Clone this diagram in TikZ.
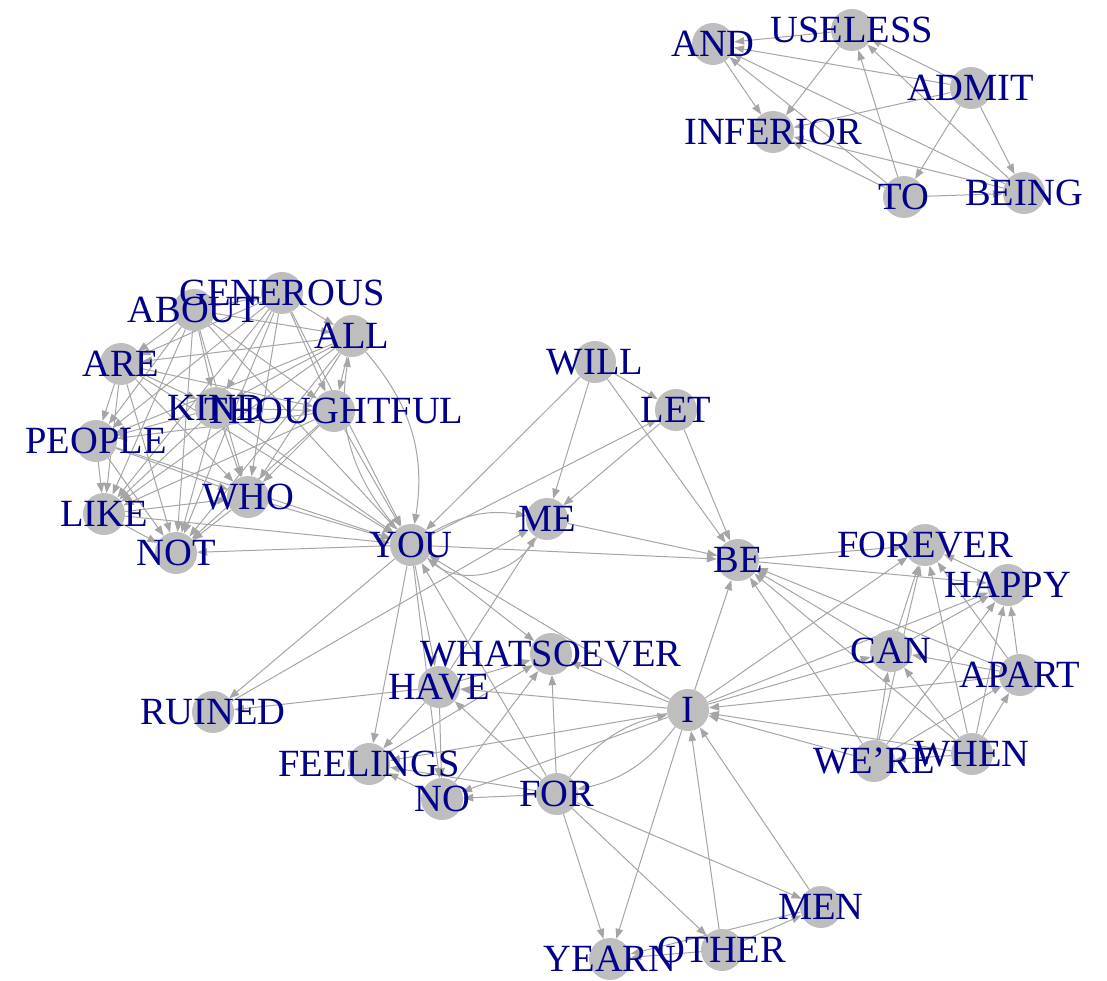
\documentclass[tikz,border=0pt]{standalone}
\usepackage{fontspec}
\setmainfont{Liberation Serif}
\usetikzlibrary{arrows.meta}
\pgfdeclarelayer{bg}
\pgfsetlayers{bg,main}
\definecolor{vcol}{RGB}{190,190,190}
\definecolor{ecol}{RGB}{165,165,165}
\definecolor{lcol}{RGB}{0,0,139}
\newcommand\sentence[1]{%
  \foreach \a [count=\i] in {#1} {%
    \foreach \b [count=\j] in {#1} {%
      \ifnum\j>\i \draw[edge] (\a) -- (\b);\fi
    }}}
\begin{document}
\begin{tikzpicture}[x=1pt,y=-1pt,
  vert/.style={circle,fill=vcol,minimum size=42pt,inner sep=0pt},
  lab/.style={text=lcol,font=\fontsize{38.5}{40}\selectfont,inner sep=0pt,text height=25pt,text depth=0pt},
  edge/.style={draw=ecol,line width=1pt,-{Triangle[length=10pt,width=7.5pt]}}]
\useasboundingbox (0,0) rectangle (1107,981);
% vertices
\foreach \n/\x/\y in {AND/713/44,USELESS/852/30,ADMIT/971/88,INFERIOR/773/132,TO/904/197,BEING/1024/193,
  GENEROUS/282/293,ABOUT/194/310,ALL/352/336,ARE/121/364,KIND/216/408,THOUGHTFUL/334/411,PEOPLE/96/441,
  WHO/248/497,LIKE/104/514,NOT/176/553,YOU/411/545,WILL/595/362,LET/676/410,ME/547/519,BE/738/560,
  FOREVER/925/545,HAPPY/1008/585,CAN/891/651,APART/1020/675,I/688/710,WERE/874/761,WHEN/972/754,
  WHATSOEVER/551/654,HAVE/439/687,RUINED/213/712,FEELINGS/369/764,NO/442/799,FOR/557/794,
  YEARN/610/959,OTHER/722/950,MEN/821/907}
  \node[vert] (\n) at (\x,\y) {};
% labels
\foreach \n/\t in {AND/AND,USELESS/USELESS,ADMIT/ADMIT,INFERIOR/INFERIOR,TO/TO,BEING/BEING,
  GENEROUS/GENEROUS,ABOUT/ABOUT,ALL/ALL,ARE/ARE,KIND/KIND,THOUGHTFUL/THOUGHTFUL,PEOPLE/PEOPLE,
  WHO/WHO,LIKE/LIKE,NOT/NOT,YOU/YOU,WILL/WILL,LET/LET,ME/ME,BE/BE,
  FOREVER/FOREVER,HAPPY/HAPPY,CAN/CAN,APART/APART,I/I,WERE/WE’RE,WHEN/WHEN,
  WHATSOEVER/WHATSOEVER,HAVE/HAVE,RUINED/RUINED,FEELINGS/FEELINGS,NO/NO,FOR/FOR,
  YEARN/YEARN,OTHER/OTHER,MEN/MEN}
  \node[lab] (l\n) at (\n) {\t};
% edges
\begin{pgfonlayer}{bg}
\sentence{ADMIT,TO,BEING,USELESS,AND,INFERIOR}
\sentence{WHEN,WERE,APART,I,CAN,BE,HAPPY,FOREVER}
\sentence{ABOUT,GENEROUS,ALL,ARE,KIND,THOUGHTFUL,PEOPLE,LIKE,WHO,NOT}
\foreach \a/\b in {ABOUT/YOU,GENEROUS/YOU,ARE/YOU,KIND/YOU,THOUGHTFUL/YOU,PEOPLE/YOU,LIKE/YOU,WHO/YOU,YOU/NOT,
  WILL/YOU,WILL/LET,WILL/ME,WILL/BE,YOU/LET,YOU/BE,LET/ME,LET/BE,ME/BE,
  YOU/HAVE,YOU/RUINED,HAVE/RUINED,HAVE/ME,RUINED/ME,
  I/YOU,I/HAVE,I/NO,I/FEELINGS,I/WHATSOEVER,FOR/YOU,FOR/HAVE,FOR/NO,FOR/FEELINGS,FOR/WHATSOEVER,
  YOU/NO,YOU/FEELINGS,YOU/WHATSOEVER,HAVE/NO,HAVE/FEELINGS,HAVE/WHATSOEVER,NO/FEELINGS,NO/WHATSOEVER,FEELINGS/WHATSOEVER,
  FOR/OTHER,FOR/MEN,FOR/YEARN,OTHER/MEN,OTHER/I,OTHER/YEARN,MEN/I,MEN/YEARN,I/YEARN}
  \draw[edge] (\a) -- (\b);
\draw[edge] (ALL) to[bend left=25] (YOU);
\draw[edge] (YOU) to[bend left=25] (ALL);
\draw[edge] (YOU) to[bend left=20] (ME);
\draw[edge] (ME) to[bend left=50] (YOU);
\draw[edge] (I) to[bend left=20] (FOR);
\draw[edge] (FOR) to[bend left=20] (I);
\end{pgfonlayer}
\end{tikzpicture}
\end{document}
